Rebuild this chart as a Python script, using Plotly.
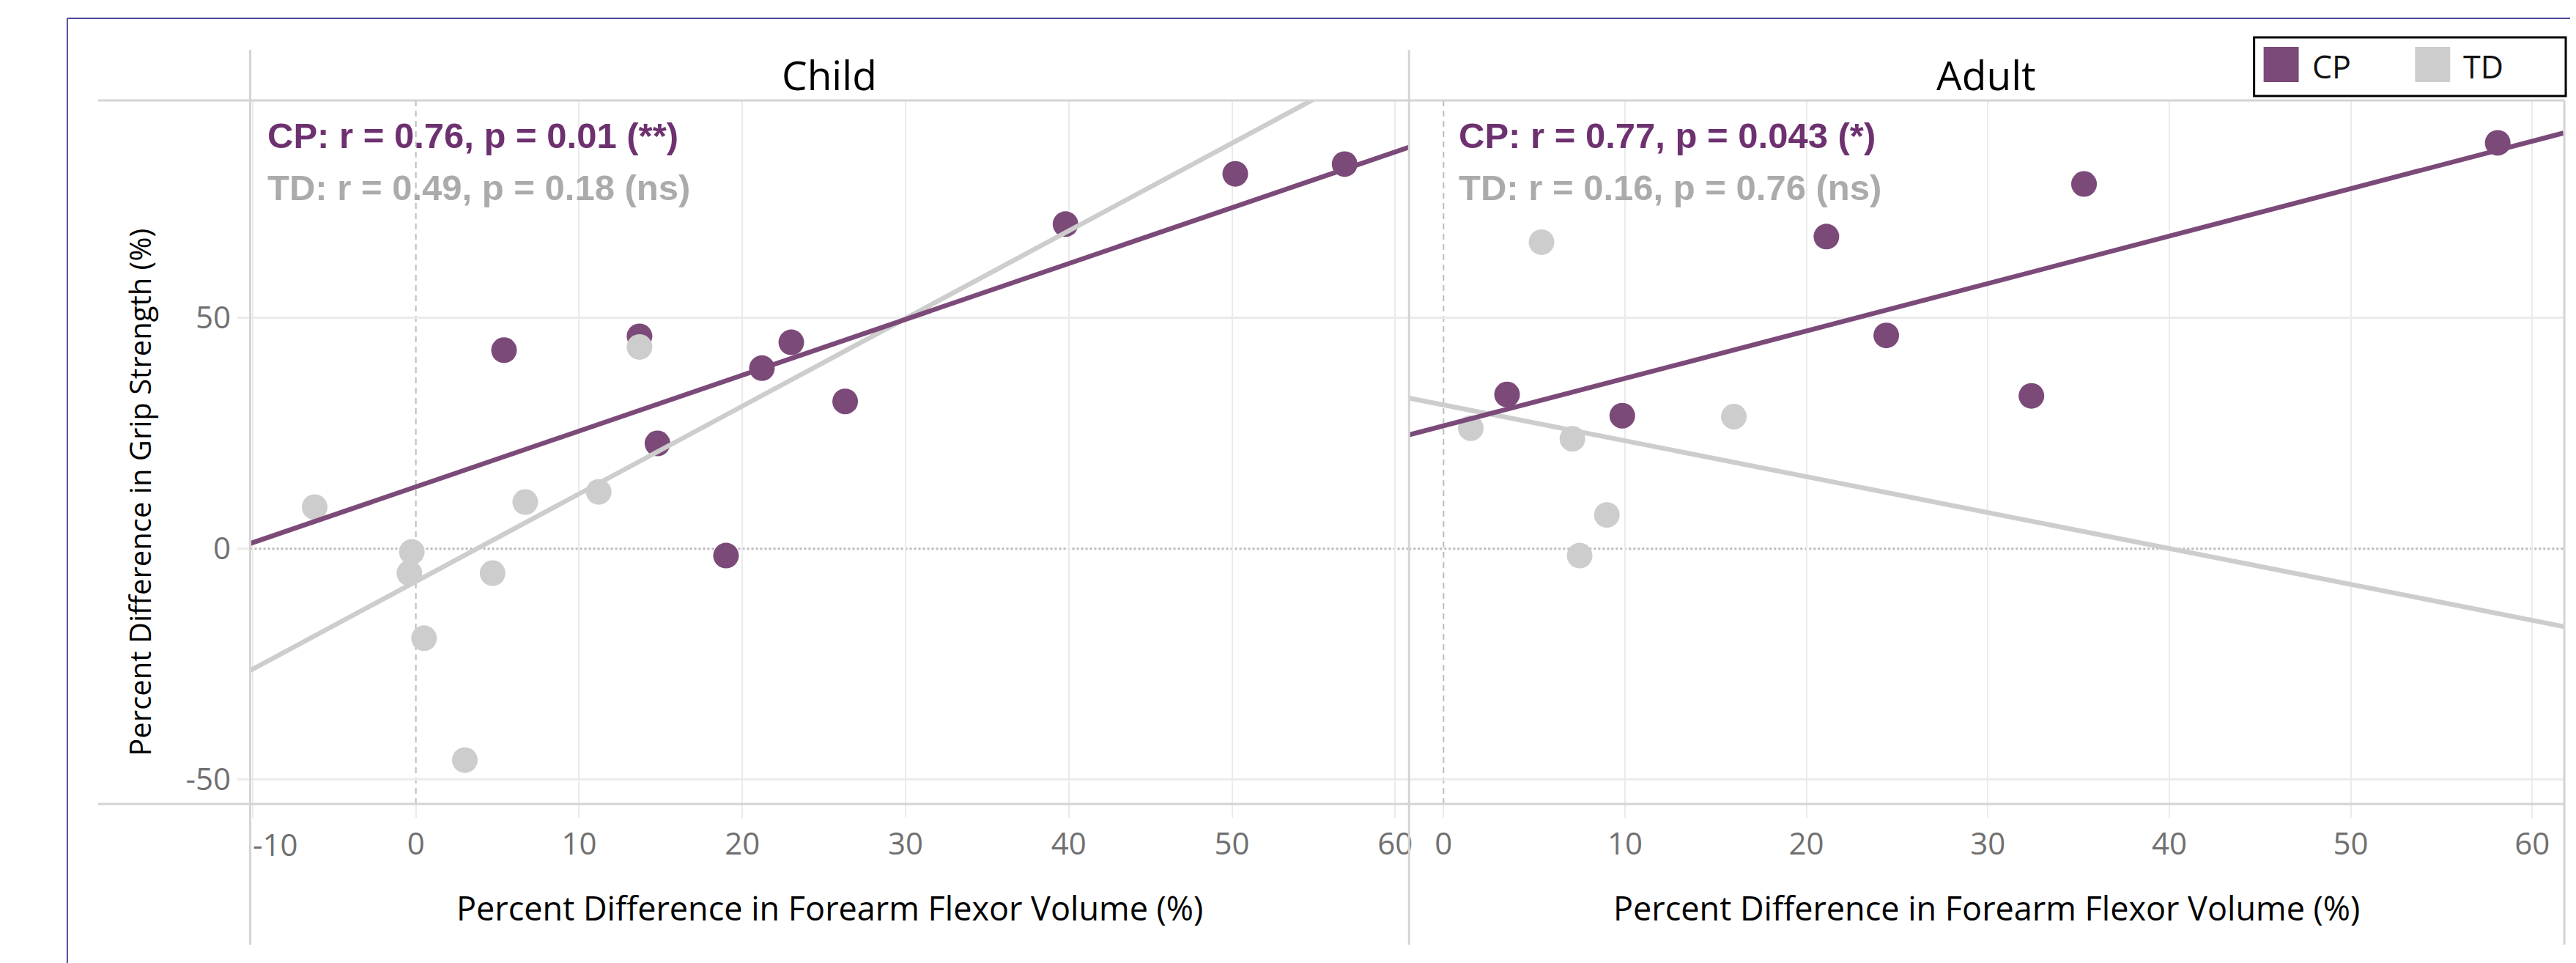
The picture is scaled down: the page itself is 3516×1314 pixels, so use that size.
import numpy as np
import plotly.graph_objects as go

# ---------------- data ----------------
child_cp_x = [5.4, 13.7, 21.2, 23.0, 26.3, 14.8, 19.0, 39.8, 50.2, 56.9]
child_cp_y = [43.0, 46.0, 39.1, 44.7, 31.9, 22.8, -1.5, 70.3, 81.2, 83.3]
child_td_x = [13.7, -6.2, 6.7, 11.2, -0.25, -0.4, 4.7, 0.5, 3.0]
child_td_y = [43.7, 9.0, 10.1, 12.3, -0.7, -5.3, -5.3, -19.4, -45.8]

adult_cp_x = [58.1, 35.3, 21.1, 24.4, 32.4, 3.5, 9.85]
adult_cp_y = [87.9, 79.0, 67.6, 46.2, 33.1, 33.4, 28.8]
adult_td_x = [5.4, 1.5, 7.1, 16.0, 9.0, 7.5]
adult_td_y = [66.4, 26.1, 23.8, 28.6, 7.3, -1.5]

panel_titles = ["Child", "Adult"]
groups = ["CP", "TD"]
child_x_ticks = [-10, 0, 10, 20, 30, 40, 50, 60]
adult_x_ticks = [0, 10, 20, 30, 40, 50, 60]
y_ticks = [-50, 0, 50]
stats_cp = ["CP: r = 0.76, p = 0.01 (**)", "CP: r = 0.77, p = 0.043 (*)"]
stats_td = ["TD: r = 0.49, p = 0.18 (ns)", "TD: r = 0.16, p = 0.76 (ns)"]
x_title = "Percent Difference in Forearm Flexor Volume (%)"
y_title = "Percent Difference in Grip Strength (%)"

# ---------------- style ----------------
W, H = 3516, 1314
CP_COL = "#7B4A79"
CP_TXT = "#6E3170"
TD_COL = "#CDCDCD"
TD_TXT = "#ABABAB"
FRAME = "#D4D4D4"
GRID = "#EBEBEB"
TICKFONT = dict(family="Open Sans", size=42, color="#707070")
LABFONT = "Open Sans"

def px(x):
    return x / W

def py(y):
    return 1 - y / H

left_dom = [px(334), px(1918)]
right_dom = [px(1918), px(3496)]
y_dom = [py(1089), py(129)]
child_range = [-10.15, 60.85]
adult_range = [-1.9, 61.73]
y_range = [-55.3, 97.1]

fig = go.Figure()

panels = [
    ("x", "y", child_cp_x, child_cp_y, child_td_x, child_td_y, child_range),
    ("x2", "y2", adult_cp_x, adult_cp_y, adult_td_x, adult_td_y, adult_range),
]

for xa, ya, cx, cy, tx, ty, rng in panels:
    fig.add_trace(go.Scatter(x=cx, y=cy, xaxis=xa, yaxis=ya, mode="markers", name=groups[0],
                             marker=dict(size=35, color=CP_COL, line=dict(width=0)), showlegend=False))
    fig.add_trace(go.Scatter(x=tx, y=ty, xaxis=xa, yaxis=ya, mode="markers", name=groups[1],
                             marker=dict(size=35, color=TD_COL, line=dict(width=0)), showlegend=False))
    # linear trend lines (least squares fits of each group)
    xs = np.array(rng)
    mt, bt = np.polyfit(tx, ty, 1)
    fig.add_trace(go.Scatter(x=xs, y=mt * xs + bt, xaxis=xa, yaxis=ya, mode="lines",
                             line=dict(color=TD_COL, width=6.5), showlegend=False, cliponaxis=True))
    mc, bc = np.polyfit(cx, cy, 1)
    fig.add_trace(go.Scatter(x=xs, y=mc * xs + bc, xaxis=xa, yaxis=ya, mode="lines",
                             line=dict(color=CP_COL, width=6.5), showlegend=False, cliponaxis=True))

fig.update_layout(
    width=W, height=H, margin=dict(l=0, r=0, t=0, b=0),
    paper_bgcolor="white", plot_bgcolor="white", showlegend=False,
    xaxis=dict(domain=left_dom, range=child_range, anchor="y", tickmode="array",
               tickvals=child_x_ticks, ticktext=[""] + [str(v) for v in child_x_ticks[1:]],
               showgrid=False, zeroline=False, showline=False, ticks="outside", ticklen=18,
               tickwidth=2, tickcolor=GRID, tickfont=TICKFONT,
               minor=dict(tickmode="array", tickvals=[v for v in child_x_ticks if v != 0],
                          showgrid=True, gridcolor=GRID, gridwidth=2, ticks="")),
    xaxis2=dict(domain=right_dom, range=adult_range, anchor="y2", tickmode="array",
                tickvals=adult_x_ticks, ticktext=[str(v) for v in adult_x_ticks],
                showgrid=False, zeroline=False, showline=False, ticks="outside", ticklen=18,
                tickwidth=2, tickcolor=GRID, tickfont=TICKFONT,
                minor=dict(tickmode="array", tickvals=[v for v in adult_x_ticks if v != 0],
                           showgrid=True, gridcolor=GRID, gridwidth=2, ticks="")),
    yaxis=dict(domain=y_dom, range=y_range, anchor="x", tickmode="array", tickvals=y_ticks,
               ticktext=[str(v) for v in y_ticks], showgrid=False, zeroline=False, showline=False,
               ticks="outside", ticklen=17, tickwidth=3, tickcolor=GRID, tickfont=TICKFONT,
               minor=dict(tickmode="array", tickvals=[v for v in y_ticks if v != 0],
                          showgrid=True, gridcolor=GRID, gridwidth=3, ticks="")),
    yaxis2=dict(domain=y_dom, range=y_range, anchor="x2", matches="y", showticklabels=False,
                tickmode="array", tickvals=y_ticks, showgrid=False, zeroline=False, showline=False,
                ticks="",
                minor=dict(tickmode="array", tickvals=[v for v in y_ticks if v != 0],
                           showgrid=True, gridcolor=GRID, gridwidth=3, ticks="")),
)

shapes = []
# zero reference lines
for xa, ya in (("x", "y"), ("x2", "y2")):
    shapes.append(dict(type="line", xref=xa, yref=ya + " domain", x0=0, x1=0, y0=0, y1=1,
                       line=dict(color="#BDBDBD", width=2, dash="8px,6px"), layer="below"))
    shapes.append(dict(type="line", xref=xa + " domain", yref=ya, x0=0, x1=1, y0=0, y1=0,
                       line=dict(color="#BBBBBB", width=3, dash="dot"), layer="below"))

# table frame (header and axis rules)
def hline(y, x0, x1, color=FRAME, width=3):
    shapes.append(dict(type="line", xref="paper", yref="paper", x0=px(x0), x1=px(x1),
                       y0=py(y), y1=py(y), line=dict(color=color, width=width)))

def vline(x, y0, y1, color=FRAME, width=3):
    shapes.append(dict(type="line", xref="paper", yref="paper", x0=px(x), x1=px(x),
                       y0=py(y0), y1=py(y1), line=dict(color=color, width=width)))

hline(129, 126, 3497)
hline(1089, 126, 3497)
vline(334, 60, 1281)
vline(1918, 60, 1281)
vline(3497, 129, 1281)

# outer screenshot border
hline(17, 84, W, color="#4B4B9C", width=2)
vline(84, 17, H, color="#4B4B9C", width=2)

# legend box
shapes.append(dict(type="rect", xref="paper", yref="paper", x0=px(3073), x1=px(3499),
                   y0=py(123), y1=py(43), line=dict(color="black", width=3), fillcolor="white"))
shapes.append(dict(type="rect", xref="paper", yref="paper", x0=px(3086), x1=px(3134),
                   y0=py(104), y1=py(56), line=dict(width=0), fillcolor=CP_COL))
shapes.append(dict(type="rect", xref="paper", yref="paper", x0=px(3293), x1=px(3341),
                   y0=py(104), y1=py(56), line=dict(width=0), fillcolor=TD_COL))

fig.update_layout(shapes=shapes)

ann = []
centers = [(334 + 1918) / 2, (1918 + 3496) / 2]
for i, c in enumerate(centers):
    ann.append(dict(text=panel_titles[i], x=px(c), y=py(94), xref="paper", yref="paper",
                    xanchor="center", yanchor="middle", showarrow=False,
                    font=dict(family=LABFONT, size=55, color="black")))
    ann.append(dict(text=x_title, x=px(c), y=py(1230), xref="paper", yref="paper",
                    xanchor="center", yanchor="middle", showarrow=False,
                    font=dict(family=LABFONT, size=45, color="black")))
stat_x = [356, 1984]
for i in range(2):
    ann.append(dict(text="<b>" + stats_cp[i] + "</b>", x=px(stat_x[i]), y=py(177), xref="paper",
                    yref="paper", xanchor="left", yanchor="middle", showarrow=False,
                    font=dict(family="Liberation Sans", size=49, color=CP_TXT)))
    ann.append(dict(text="<b>" + stats_td[i] + "</b>", x=px(stat_x[i]), y=py(248), xref="paper",
                    yref="paper", xanchor="left", yanchor="middle", showarrow=False,
                    font=dict(family="Liberation Sans", size=49, color=TD_TXT)))

ann.append(dict(text=y_title, x=px(182), y=py(664), xref="paper", yref="paper",
                xanchor="center", yanchor="middle", textangle=-90, showarrow=False,
                font=dict(family=LABFONT, size=40, color="black")))
# first child tick label, kept inside the pane as in the original
ann.append(dict(text=str(child_x_ticks[0]), x=child_x_ticks[0], xref="x", y=py(1143), yref="paper",
                xanchor="left", yanchor="middle", showarrow=False, xshift=-2, font=TICKFONT))
# legend labels
ann.append(dict(text=groups[0], x=px(3150), y=py(82), xref="paper", yref="paper", xanchor="left",
                yanchor="middle", showarrow=False, font=dict(family=LABFONT, size=43, color="#111")))
ann.append(dict(text=groups[1], x=px(3357), y=py(82), xref="paper", yref="paper", xanchor="left",
                yanchor="middle", showarrow=False, font=dict(family=LABFONT, size=43, color="#111")))
fig.update_layout(annotations=ann)

fig.write_html("out.html")
